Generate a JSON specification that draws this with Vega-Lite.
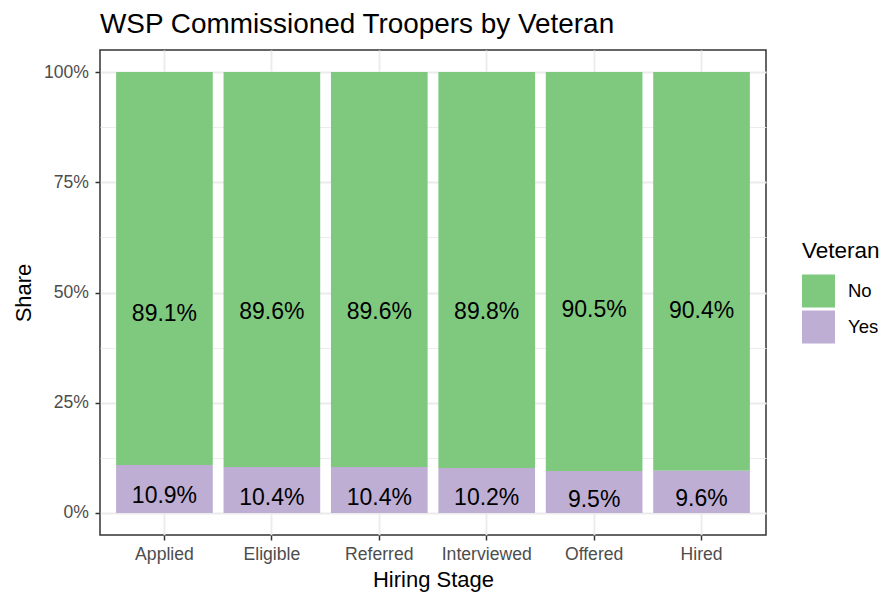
{
  "$schema": "https://vega.github.io/schema/vega-lite/v6.json",
  "width": 666,
  "height": 485,
  "autosize": {"type": "none"},
  "padding": {"left": 100, "top": 50, "right": 120, "bottom": 60},
  "background": "white",
  "title": {
    "text": "WSP Commissioned Troopers by Veteran",
    "anchor": "start",
    "frame": "group",
    "fontSize": 27.9,
    "font": "Liberation Sans",
    "fontWeight": "normal",
    "color": "black",
    "baseline": "alphabetic",
    "offset": 16.5,
    "dy": 27.5
  },
  "data": {
    "values": [
      {"stage": "Applied", "Veteran": "No", "pct": 0.891},
      {"stage": "Applied", "Veteran": "Yes", "pct": 0.109},
      {"stage": "Eligible", "Veteran": "No", "pct": 0.896},
      {"stage": "Eligible", "Veteran": "Yes", "pct": 0.104},
      {"stage": "Referred", "Veteran": "No", "pct": 0.896},
      {"stage": "Referred", "Veteran": "Yes", "pct": 0.104},
      {"stage": "Interviewed", "Veteran": "No", "pct": 0.898},
      {"stage": "Interviewed", "Veteran": "Yes", "pct": 0.102},
      {"stage": "Offered", "Veteran": "No", "pct": 0.905},
      {"stage": "Offered", "Veteran": "Yes", "pct": 0.095},
      {"stage": "Hired", "Veteran": "No", "pct": 0.904},
      {"stage": "Hired", "Veteran": "Yes", "pct": 0.096}
    ]
  },
  "transform": [{"calculate": "datum.pct / 2", "as": "mid"}],
  "encoding": {
    "x": {
      "field": "stage",
      "type": "nominal",
      "sort": ["Applied", "Eligible", "Referred", "Interviewed", "Offered", "Hired"],
      "scale": {"paddingInner": 0.1, "paddingOuter": 0.15},
      "axis": {
        "title": "Hiring Stage",
        "labelAngle": 0,
        "bandPosition": 0.5,
        "labelBaseline": "alphabetic",
        "labelPadding": 19.5,
        "titleX": 333,
        "titleY": 51,
        "titleAlign": "center",
        "titleBaseline": "alphabetic"
      }
    }
  },
  "layer": [
    {
      "mark": {"type": "bar"},
      "encoding": {
        "y": {
          "field": "pct",
          "type": "quantitative",
          "stack": "zero",
          "scale": {"domain": [-0.05, 1.05], "nice": false, "zero": false},
          "axis": {
            "orient": "left",
            "title": "Share",
            "values": [0, 0.25, 0.5, 0.75, 1],
            "format": ".0%",
            "labelBaseline": "middle",
            "labelPadding": 6.5,
            "titleX": -77,
            "titleY": 242.5,
            "titleAngle": -90,
            "titleAlign": "center",
            "titleBaseline": "middle"
          }
        },
        "color": {
          "field": "Veteran",
          "type": "nominal",
          "scale": {"domain": ["No", "Yes"], "range": ["#7FC97F", "#BEAED4"]},
          "legend": {"title": "Veteran"}
        },
        "order": {"field": "Veteran", "sort": "descending"}
      }
    },
    {
      "transform": [{"filter": "datum.Veteran == 'No'"}],
      "mark": {"type": "text", "fontSize": 23, "font": "Liberation Sans", "color": "black", "baseline": "middle", "dy": -3},
      "encoding": {
        "y": {
          "field": "mid",
          "type": "quantitative",
          "scale": {"domain": [-0.05, 1.05], "nice": false, "zero": false},
          "axis": {
            "orient": "left",
            "values": [0.125, 0.375, 0.625, 0.875],
            "labels": false,
            "ticks": false,
            "domain": false,
            "title": null,
            "grid": true,
            "gridWidth": 0.9,
            "gridColor": "#EBEBEB"
          }
        },
        "text": {"field": "pct", "type": "quantitative", "format": ".1%"}
      }
    },
    {
      "transform": [{"filter": "datum.Veteran == 'Yes'"}],
      "mark": {"type": "text", "fontSize": 23, "font": "Liberation Sans", "color": "black", "baseline": "middle", "dy": 7.5},
      "encoding": {
        "y": {
          "field": "mid",
          "type": "quantitative",
          "scale": {"domain": [-0.05, 1.05], "nice": false, "zero": false},
          "axis": null
        },
        "text": {"field": "pct", "type": "quantitative", "format": ".1%"}
      }
    }
  ],
  "resolve": {"axis": {"y": "independent"}},
  "config": {
    "font": "Liberation Sans",
    "view": {"stroke": "#333333", "strokeWidth": 1.5},
    "axis": {
      "domain": false,
      "grid": true,
      "gridColor": "#EBEBEB",
      "gridWidth": 1.8,
      "tickColor": "#333333",
      "tickSize": 5,
      "tickWidth": 1.5,
      "labelFont": "Liberation Sans",
      "labelFontSize": 17.6,
      "labelColor": "#4D4D4D",
      "titleFont": "Liberation Sans",
      "titleFontSize": 22,
      "titleFontWeight": "normal",
      "titleColor": "black"
    },
    "legend": {
      "orient": "none",
      "legendX": 702,
      "legendY": 190,
      "titleFont": "Liberation Sans",
      "titleFontSize": 22.5,
      "titleFontWeight": "normal",
      "titleColor": "black",
      "titlePadding": 12,
      "labelFont": "Liberation Sans",
      "labelFontSize": 18.5,
      "labelColor": "black",
      "labelOffset": 13,
      "symbolType": "square",
      "symbolSize": 1089,
      "symbolStrokeWidth": 0,
      "symbolOpacity": 1,
      "rowPadding": 3
    }
  }
}
